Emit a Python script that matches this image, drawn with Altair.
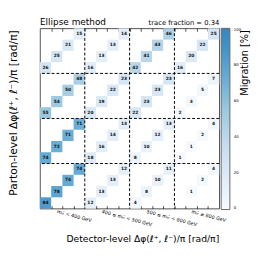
import altair as alt
import pandas as pd

# --- data -----------------------------------------------------------------
dphi_bins = ["< 0.25", "0.25\u22120.5", "0.5\u22120.75", "\u2265 0.75"]
mass_bins = [
    "m\u209c\u209c\u0304 < 400 GeV",
    "400 \u2264 m\u209c\u209c\u0304 < 500 GeV",
    "500 \u2264 m\u209c\u209c\u0304 < 800 GeV",
    "m\u209c\u209c\u0304 \u2265 800 GeV",
]
# migration[parton-level mass block] -> per detector-level mass block -> values per dphi bin
mig_parton_lt400 = [[84, 78, 74, 74], [12, 13, 13, 12], [4, 8, 10, 11], [0, 1, 2, 4]]
mig_parton_400_500 = [[74, 72, 71, 71], [18, 16, 14, 13], [8, 10, 12, 13], [1, 1, 2, 4]]
mig_parton_500_800 = [[55, 54, 50, 48], [20, 19, 22, 23], [22, 23, 23, 23], [2, 3, 5, 7]]
mig_parton_ge800 = [[26, 25, 21, 15], [16, 13, 13, 14], [42, 41, 43, 46], [16, 20, 22, 25]]
migration = [mig_parton_lt400, mig_parton_400_500, mig_parton_500_800, mig_parton_ge800]
block_edges = [4, 8, 12]
cbar_ticks = [0, 20, 40, 60, 80, 100]
title_left = "Ellipse method"
title_right = "trace fraction = 0.34"
x_title = "Detector-level \u0394\u03c6(\u2113\u207a, \u2113\u207b)/\u03c0 [rad/\u03c0]"
y_title = "Parton-level \u0394\u03c6(\u2113\u207a, \u2113\u207b)/\u03c0 [rad/\u03c0]"
cbar_title = "Migration [%]"

rows = []
for p, dets in enumerate(migration):
    for d, vals in enumerate(dets):
        for k, v in enumerate(vals):
            if v > 0:
                rows.append({"xi": d * 4 + k, "yi": p * 4 + k, "value": v})
cells = pd.DataFrame(rows)
cells["xe"] = cells["xi"] + 1
cells["ye"] = cells["yi"] + 1
cells["xc"] = cells["xi"] + 0.5
cells["yc"] = cells["yi"] + 0.5

mass_df = pd.DataFrame({"label": mass_bins, "pos": [i * 4 + 2 for i in range(4)]})
edges_df = pd.DataFrame({"b": block_edges})

W, H = 185, 186
FONT = "DejaVu Sans"
xs = alt.Scale(domain=[0, 16], nice=False, zero=False)
ys = alt.Scale(domain=[0, 16], nice=False, zero=False)

stops = [0, 17.86, 35.71, 53.57, 71.43, 89.29, 100]
cols = ["#f7fbff", "#deebf7", "#c6dbef", "#9ecae1", "#6baed6", "#4292c6", "#3787c0"]

label_arr = "[" + ",".join("'" + s + "'" for s in dphi_bins) + "]"

heat = alt.Chart(cells).mark_rect().encode(
    x=alt.X("xi:Q", scale=xs, axis=alt.Axis(orient="bottom", values=list(range(1, 16)), labels=False,
                                            domain=False, tickSize=3, offset=-3, title=None, grid=False,
                                            tickColor="#222", tickWidth=0.8)),
    x2="xe:Q",
    y=alt.Y("yi:Q", scale=ys, axis=alt.Axis(values=[i + 0.5 for i in range(16)],
                                            labelExpr=label_arr + "[floor(datum.value) % 4]",
                                            ticks=False, domain=False, labelFontSize=4, labelPadding=3,
                                            title=None, grid=False, labelFont=FONT, labelColor="#000")),
    y2="ye:Q",
    color=alt.Color("value:Q", scale=alt.Scale(domain=stops, range=cols, interpolate="rgb"),
                    legend=alt.Legend(orient="none", legendX=W + 2, legendY=0, direction="vertical",
                                      gradientLength=H + 1, gradientThickness=9, values=cbar_ticks,
                                      title=None, labelFontSize=4, labelOffset=4, labelFont=FONT,
                                      gradientStrokeColor="#666", gradientStrokeWidth=1, padding=0,
                                      labelColor="#000")),
)

nums = alt.Chart(cells).mark_text(fontSize=4.5, fontWeight="bold", font=FONT, color="#111").encode(
    x=alt.X("xc:Q", scale=xs, axis=None),
    y=alt.Y("yc:Q", scale=ys, axis=None),
    text="value:Q",
)

vlines = alt.Chart(edges_df).mark_rule(color="#000", strokeDash=[3, 2], strokeWidth=1).encode(
    x=alt.X("b:Q", scale=xs, axis=alt.Axis(orient="top", values=list(range(1, 16)), labels=False,
                                           domain=False, tickSize=3, offset=-3, title=None, grid=False,
                                           tickColor="#222", tickWidth=0.8)),
)
hlines = alt.Chart(edges_df).mark_rule(color="#000", strokeDash=[3, 2], strokeWidth=1).encode(
    y=alt.Y("b:Q", scale=ys, axis=None),
)

mass_lbl = alt.Chart(mass_df).mark_text(fontSize=5, font=FONT, angle=15, align="left", baseline="top",
                                        dx=-5, color="#000").encode(
    x=alt.X("pos:Q", scale=xs, axis=None),
    y=alt.value(H + 2),
    text="label:N",
)

one = pd.DataFrame({"t": [0]})


def txt(s, x, y, size, align="left", baseline="alphabetic", angle=0):
    return alt.Chart(one).mark_text(text=s, fontSize=size, font=FONT, align=align, baseline=baseline,
                                    angle=angle, color="#000").encode(x=alt.value(x), y=alt.value(y))


t1 = txt(title_left, 0, -3, 9.2)
t2 = txt(title_right, W, -3, 7.0, align="right")
tx = txt(x_title, W, 221, 9.5, align="right")
ty = txt(y_title, -27, 2, 11, align="right", baseline="middle", angle=270)
tc = txt(cbar_title, 212, 2, 10, align="right", baseline="middle", angle=270)

chart = alt.layer(heat, nums, vlines, hlines, mass_lbl, t1, t2, tx, ty, tc).resolve_axis(
    x="independent"
).properties(
    width=W, height=H,
    autosize=alt.AutoSizeParams(type="none"),
    padding={"left": 33, "top": 17, "right": 40, "bottom": 47},
    background="white",
).configure_view(stroke="#222", strokeWidth=0.8)

chart.save("out.html", embed_options={"renderer": "svg", "actions": False})
